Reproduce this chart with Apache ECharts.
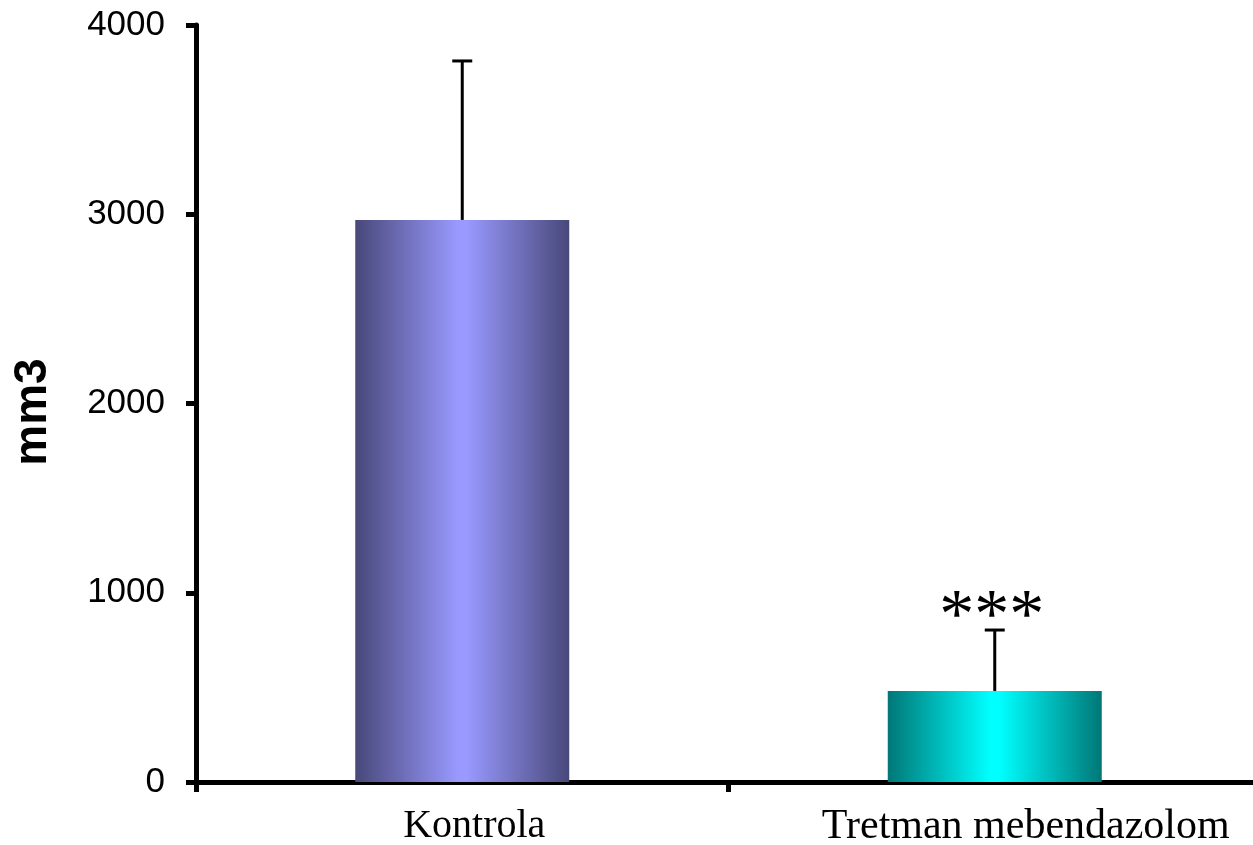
<!DOCTYPE html>
<html>
<head>
<meta charset="utf-8">
<script src="https://cdn.jsdelivr.net/npm/echarts@6/dist/echarts.min.js"></script>
<style>
  html, body { margin: 0; padding: 0; background: #fff; }
  #chart { width: 1253px; height: 845px; }
</style>
</head>
<body>
<div id="chart"></div>
<script>
// Tumour volume (mm3): group means with upper standard-deviation whiskers
const categories = ['Kontrola', 'Tretman mebendazolom'];
const means = [2970, 481];
const upperErrors = [840, 322];
const significance = ['', '***'];
const yTickValues = [0, 1000, 2000, 3000, 4000];

const barGradients = [
  ['#48487a', '#9999ff', '#48487a'],
  ['#007777', '#00ffff', '#007777']
];

function gradient(stops) {
  return new echarts.graphic.LinearGradient(0, 0, 1, 0, [
    { offset: 0, color: stops[0] },
    { offset: 0.48, color: stops[1] },
    { offset: 0.52, color: stops[1] },
    { offset: 1, color: stops[2] }
  ]);
}

const chart = echarts.init(document.getElementById('chart'), null, { renderer: 'canvas' });

const option = {
  animation: false,
  backgroundColor: '#ffffff',
  // the category axis runs slightly past the right edge of the canvas
  grid: {
    left: 196, width: 1065, top: 25, bottom: 63,
    containLabel: false,
    outerBoundsMode: 'none'
  },
  xAxis: {
    type: 'category',
    data: categories,
    boundaryGap: true,
    axisLine: { lineStyle: { color: '#000', width: 5 } },
    axisTick: { show: true, length: 10, lineStyle: { color: '#000', width: 5 } },
    axisLabel: {
      color: '#000',
      fontFamily: 'Liberation Serif',
      fontSize: 40,
      margin: 24,
      interval: 0,
      formatter: function (v, i) { return i === 0 ? '{a|' + v + '}' : '{b|' + v + '}'; },
      rich: {
        a: { fontFamily: 'Liberation Serif', fontSize: 40, color: '#000', padding: [0, 0, 0, 24] },
        b: { fontFamily: 'Liberation Serif', fontSize: 42, color: '#000', padding: [0, 0, 0, 62] }
      }
    },
    splitLine: { show: false }
  },
  yAxis: {
    type: 'value',
    min: yTickValues[0],
    max: yTickValues[yTickValues.length - 1],
    interval: yTickValues[1] - yTickValues[0],
    axisLine: { show: true, lineStyle: { color: '#000', width: 5 } },
    axisTick: { show: true, length: 10, lineStyle: { color: '#000', width: 5 } },
    axisLabel: {
      color: '#000',
      fontFamily: 'Liberation Sans',
      fontSize: 35,
      margin: 31,
      formatter: function (v) { return String(v); }
    },
    splitLine: { show: false }
  },
  graphic: [{
    type: 'text',
    x: 33,
    y: 412,
    rotation: Math.PI / 2,
    style: {
      text: 'mm3',
      fontFamily: 'Liberation Sans',
      fontWeight: 'bold',
      fontSize: 46,
      fill: '#000',
      align: 'center',
      verticalAlign: 'middle'
    }
  }],
  series: [
    {
      type: 'bar',
      barWidth: 214,
      data: means.map(function (v, i) {
        return { value: v, itemStyle: { color: gradient(barGradients[i]) } };
      })
    },
    {
      type: 'custom',
      z: 5,
      data: categories.map(function (c, i) { return [i, means[i], upperErrors[i]]; }),
      renderItem: function (params, api) {
        const i = api.value(0);
        const mean = api.value(1);
        const err = api.value(2);
        const base = api.coord([i, mean]);
        const top = api.coord([i, mean + err]);
        const capHalf = 10;
        const children = [
          {
            type: 'line',
            shape: { x1: base[0], y1: base[1], x2: top[0], y2: top[1] },
            style: { stroke: '#000', lineWidth: 3 }
          },
          {
            type: 'line',
            shape: { x1: top[0] - capHalf, y1: top[1], x2: top[0] + capHalf, y2: top[1] },
            style: { stroke: '#000', lineWidth: 3 }
          }
        ];
        const mark = significance[params.dataIndex];
        if (mark) {
          children.push({
            type: 'text',
            x: top[0] - 3,
            y: top[1] + 24,
            style: {
              text: mark,
              fontFamily: 'Liberation Serif',
              fontSize: 70,
              fill: '#000',
              align: 'center',
              verticalAlign: 'bottom'
            }
          });
        }
        return { type: 'group', children: children };
      }
    }
  ]
};

chart.setOption(option);
</script>
</body>
</html>
